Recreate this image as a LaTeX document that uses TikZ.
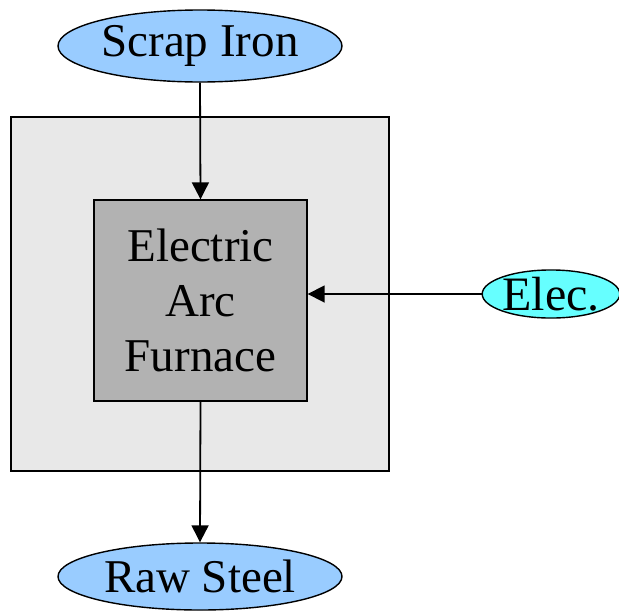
\documentclass[tikz,border=0pt]{standalone}
\usepackage{fontspec}
\setmainfont{Liberation Serif}
\usetikzlibrary{shapes.geometric,arrows.meta}
\definecolor{feedblue}{HTML}{99CCFF}
\definecolor{eleccyan}{HTML}{66FFFF}
\definecolor{outergray}{HTML}{E8E8E8}
\definecolor{innergray}{HTML}{B2B2B2}
\begin{document}
\begin{tikzpicture}[x=1pt,y=1pt,
  flow/.style={ellipse,draw=black,line width=1.4pt,inner sep=0pt,
    font=\fontsize{47}{55}\selectfont},
  boxstyle/.style={rectangle,draw=black,line width=1.4pt,inner sep=0pt},
  conn/.style={line width=1.8pt,-{Triangle[length=17pt,width=17pt]}}]
\useasboundingbox (0,0) rectangle (619,-611);
\node[boxstyle,fill=outergray,minimum width=378,minimum height=354] (outer) at (200,-294) {};
\node[boxstyle,fill=innergray,minimum width=213,minimum height=201,align=center,
  font=\fontsize{47}{55}\selectfont] (furnace) at (200.5,-300.5) {Electric\\Arc\\Furnace};
\node[flow,fill=feedblue,minimum width=284,minimum height=72] (scrap) at (200,-46) {Scrap Iron};
\node[flow,fill=feedblue,minimum width=284,minimum height=67] (steel) at (200,-576.5) {Raw Steel};
\node[flow,fill=eleccyan,minimum width=132,minimum height=48,font=\fontsize{48}{55}\selectfont] (elec) at (551,-294) {Elec.};
\draw[conn] (scrap.south) -- (furnace.north);
\draw[conn] (elec.west) -- (elec.west -| furnace.east);
\draw[conn] (furnace.south) -- (steel.north);
\end{tikzpicture}
\end{document}
